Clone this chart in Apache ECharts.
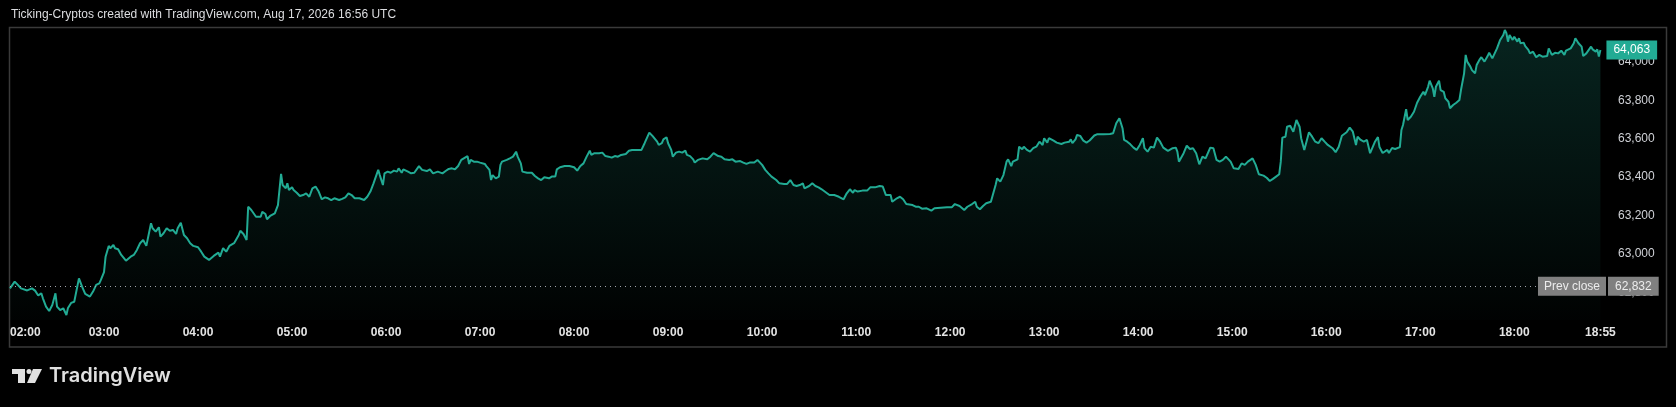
<!DOCTYPE html>
<html>
<head>
<meta charset="utf-8">
<script src="https://cdn.jsdelivr.net/npm/echarts@6/dist/echarts.min.js"></script>
<style>
html,body{margin:0;padding:0;background:#000;}
#c{width:1676px;height:407px;}
</style>
</head>
<body>
<div id="c"></div>
<script>
// ---- data (minutes after 02:00 UTC, price) ----
const minutes = [0,3,5,7,11,14,16,18,20,21,23,25,27,29,30,32,34,36,37,39,41,44,46,48,51,53,55,57,58,60,61,63,64,66,67,69,71,72,74,77,79,81,83,85,87,88,90,91,93,95,96,98,100,102,104,106,107,109,111,113,115,117,120,122,124,127,130,133,134,136,138,140,143,144,146,147,149,151,152,154,155,157,160,161,163,164,166,169,171,173,174,176,177,178,180,181,183,185,187,189,191,193,195,197,199,201,203,205,207,210,212,214,216,218,220,223,226,228,230,232,235,236,238,239,241,243,245,247,248,250,251,254,256,258,261,263,266,268,270,271,273,276,278,280,282,284,286,288,289,292,293,294,296,298,300,303,304,306,307,308,310,312,313,314,317,319,321,323,324,326,327,330,333,335,337,339,341,344,346,348,349,351,354,357,360,362,364,366,368,370,371,373,376,378,380,382,384,386,388,390,393,395,397,400,403,405,408,410,411,413,414,416,417,419,420,422,423,425,427,429,431,432,434,436,437,439,442,445,447,449,450,452,454,456,459,461,463,466,468,470,472,475,477,478,480,482,484,486,489,491,494,496,498,500,502,504,506,507,510,512,514,516,518,521,523,526,529,532,534,536,538,539,541,544,547,549,552,555,557,559,562,563,566,568,570,572,576,578,580,582,585,588,590,594,598,601,603,606,609,611,614,616,617,619,621,623,626,627,629,630,632,634,636,637,639,640,643,644,646,647,649,651,653,655,657,659,660,662,663,666,668,671,673,676,677,678,680,681,683,685,687,689,692,694,696,698,702,704,706,708,710,711,713,715,717,719,721,723,724,726,728,730,732,734,736,739,742,744,745,746,749,751,753,755,757,759,761,763,766,768,770,772,774,776,779,781,784,786,788,790,793,795,797,800,802,804,806,808,810,811,812,814,815,817,819,821,823,824,826,829,831,833,835,837,839,841,844,846,848,850,853,854,855,857,859,860,862,864,866,868,871,873,874,876,879,880,882,884,887,888,889,891,892,894,896,897,898,900,902,903,905,906,908,909,910,912,913,915,916,918,919,921,923,925,926,928,929,930,932,933,935,936,938,939,941,943,944,946,947,949,951,953,954,955,956,957,959,960,962,963,964,966,967,969,970,972,974,976,978,981,982,984,986,988,990,992,993,996,998,999,1001,1003,1004,1006,1009,1010,1012,1013,1014,1015];
const prices = [62821,62856,62839,62821,62810,62821,62809,62784,62795,62769,62726,62703,62734,62795,62726,62708,62717,62682,62719,62745,62751,62873,62830,62792,62778,62804,62839,62847,62865,62905,62986,63042,63030,63047,63030,63025,62995,63004,62965,62986,62995,63021,63056,63073,63042,63038,63160,63134,63116,63139,63090,63108,63134,63121,63125,63104,63134,63163,63099,63082,63056,63042,63035,63012,62986,62969,62990,63007,62986,63030,63012,63042,63056,63064,63099,63121,63104,63073,63246,63229,63220,63194,63194,63220,63208,63181,63198,63212,63255,63417,63359,63342,63368,63333,63347,63333,63319,63302,63307,63316,63298,63342,63351,63325,63285,63295,63290,63281,63290,63281,63287,63295,63316,63307,63290,63290,63281,63298,63325,63368,63438,63411,63359,63420,63429,63423,63434,63429,63446,63423,63441,63429,63420,63423,63458,63438,63432,63441,63420,63411,63429,63420,63432,63443,63446,63441,63458,63490,63490,63510,63469,63490,63481,63481,63476,63469,63458,63438,63385,63411,63394,63403,63464,63481,63490,63498,63507,63533,63507,63472,63429,63423,63423,63406,63394,63385,63400,63394,63404,63403,63441,63452,63458,63458,63452,63434,63458,63472,63507,63538,63516,63525,63525,63528,63510,63507,63502,63510,63507,63516,63521,63538,63542,63542,63542,63577,63632,63615,63608,63585,63568,63577,63597,63608,63577,63542,63507,63528,63533,63528,63538,63516,63510,63493,63476,63490,63498,63493,63507,63525,63516,63510,63507,63493,63490,63493,63481,63484,63476,63469,63476,63476,63490,63490,63464,63438,63420,63403,63385,63368,63365,63365,63385,63359,63354,63359,63368,63342,63354,63368,63354,63347,63337,63319,63307,63307,63298,63285,63316,63337,63319,63333,63325,63330,63330,63347,63347,63354,63351,63307,63307,63272,63290,63298,63285,63260,63255,63246,63246,63236,63238,63226,63238,63241,63243,63243,63260,63250,63229,63246,63260,63272,63246,63233,63250,63264,63272,63281,63359,63394,63377,63411,63481,63493,63458,63481,63493,63559,63545,63559,63542,63533,63551,63559,63585,63568,63603,63580,63603,63590,63580,63573,63580,63585,63597,63577,63597,63620,63615,63590,63580,63591,63617,63624,63624,63624,63625,63629,63681,63707,63655,63594,63585,63571,63554,63542,63568,63603,63551,63533,63559,63554,63606,63585,63554,63537,63551,63554,63533,63481,63525,63564,63547,63551,63525,63467,63507,63498,63554,63551,63490,63481,63490,63507,63481,63446,63443,63472,63464,63481,63498,63464,63415,63408,63397,63380,63391,63403,63415,63481,63606,63611,63663,63668,63637,63698,63663,63603,63542,63634,63611,63585,63577,63603,63585,63568,63551,63530,63559,63616,63634,63624,63658,63637,63568,63611,63594,63585,63594,63525,63583,63609,63557,63526,63542,63526,63552,63547,63557,63646,63672,63754,63698,63715,63741,63750,63788,63819,63845,63828,63871,63903,63863,63819,63871,63903,63854,63845,63811,63793,63759,63776,63788,63802,63854,63941,64037,64002,63976,63958,63941,63984,64014,64025,64002,64031,64048,64019,64025,64071,64115,64141,64167,64150,64106,64141,64115,64132,64106,64124,64098,64101,64083,64063,64045,64054,64025,64037,64028,64031,64071,64037,64048,64045,64059,64037,64059,64071,64098,64124,64098,64080,64031,64045,64080,64066,64054,64066,64028,64063];
const prevClose = 62832;
const timeLabelMinutes = [0,60,120,180,240,300,360,420,480,540,600,660,720,780,840,900,960,1015];
const titleText = 'Ticking-Cryptos created with TradingView.com, Aug 17, 2026 16:56 UTC';

const fmtNum = v => Math.round(v).toString().replace(/\B(?=(\d{3})+(?!\d))/g, ',');
const pad = n => (n < 10 ? '0' : '') + n;
const fmtTime = m => pad(2 + Math.floor(m / 60)) + ':' + pad(m % 60);

const seriesData = minutes.map((m, i) => [m, prices[i]]);
const GREEN = '#22ab94';
const FONT = 'Liberation Sans, Arial, sans-serif';
const GREY = '#808080';

const chart = echarts.init(document.getElementById('c'), null, {renderer: 'canvas'});
chart.setOption({
  backgroundColor: '#000',
  animation: false,
  grid: {left: 10, right: 74, top: 29, bottom: 87, containLabel: false},
  xAxis: {
    type: 'value', min: 0, max: 1016,
    axisLine: {show: false}, axisTick: {show: false}, splitLine: {show: false},
    axisLabel: {
      customValues: timeLabelMinutes,
      formatter: v => fmtTime(v),
      color: '#e4e4e4', fontFamily: FONT, fontSize: 12, fontWeight: 'bold',
      margin: 7, alignMinLabel: 'left'
    }
  },
  yAxis: {
    type: 'value', position: 'right', min: 62656, max: 64172, splitNumber: 8, scale: true,
    axisLine: {show: false}, axisTick: {show: false}, splitLine: {show: false},
    axisLabel: {
      showMinLabel: false, showMaxLabel: false,
      formatter: v => (Math.abs(v % 200) < 1e-6 ? fmtNum(v) : ''),
      color: '#cfd1d6', fontFamily: FONT, fontSize: 12, margin: 16
    }
  },
  series: [{
    type: 'line', data: seriesData, showSymbol: false, symbol: 'none',
    lineStyle: {color: GREEN, width: 2},
    areaStyle: {
      origin: 'start',
      color: new echarts.graphic.LinearGradient(0, 0, 0, 1, [
        {offset: 0, color: 'rgba(34,171,148,0.30)'},
        {offset: 1, color: 'rgba(34,171,148,0.02)'}
      ])
    },
    endLabel: {
      show: true, formatter: p => fmtNum(p.value[1]),
      backgroundColor: GREEN, color: '#ffffff', fontFamily: FONT, fontSize: 12,
      padding: [4, 7, 3, 7], distance: 6
    },
    markLine: {
      silent: true, symbol: ['none', 'none'], animation: false,
      lineStyle: {color: '#a0a3ab', type: [1, 4], width: 1},
      data: [
        {yAxis: prevClose, label: {
          show: true, position: 'end', formatter: fmtNum(prevClose), distance: 6,
          backgroundColor: GREY, color: '#ececec', fontFamily: FONT, fontSize: 12,
          padding: [4, 7, 3, 7]
        }},
        {yAxis: prevClose, lineStyle: {color: 'rgba(0,0,0,0)'}, label: {
          show: true, position: 'insideEnd', formatter: 'Prev close', distance: -4,
          backgroundColor: GREY, color: '#ececec', fontFamily: FONT, fontSize: 12,
          padding: [4, 6, 3, 6]
        }}
      ]
    }
  }],
  graphic: [
    {type: 'text', left: 11, top: 9, style: {text: titleText, fill: '#dcdde0', font: '12px ' + FONT}},
    {type: 'rect', shape: {x: 9.5, y: 27.5, width: 1657, height: 319.5}, style: {fill: 'none', stroke: '#3a3a3a', lineWidth: 1.5}, z: -1},
    {type: 'group', left: 12, top: 369, children: [
      {type: 'rect', shape: {x: 0, y: 0, width: 13, height: 5}, style: {fill: '#e0e0e0'}},
      {type: 'rect', shape: {x: 6, y: 0, width: 7, height: 14}, style: {fill: '#e0e0e0'}},
      {type: 'circle', shape: {cx: 17, cy: 2.5, r: 2.5}, style: {fill: '#e0e0e0'}},
      {type: 'polygon', shape: {points: [[21, 0], [30, 0], [23, 14], [15, 14]]}, style: {fill: '#e0e0e0'}}
    ]},
    {type: 'text', left: 49, top: 366, style: {text: 'TradingView', fill: '#e0e0e0', font: '600 20px Inter, ' + FONT}}
  ]
});
</script>
</body>
</html>
